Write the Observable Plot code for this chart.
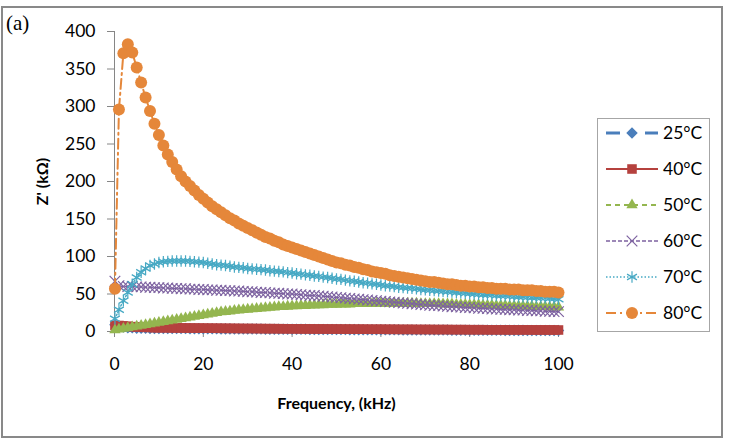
<!DOCTYPE html>
<html>
<head>
<meta charset="utf-8">
<script src="https://cdn.jsdelivr.net/npm/d3@7"></script>
<script src="https://cdn.jsdelivr.net/npm/@observablehq/plot@0.6"></script>
<style>
  body { margin: 0; background: #fff; }
  #fig { position: relative; width: 730px; height: 440px; font-family: Lato, "Open Sans", sans-serif; }
  #frame { position: absolute; left: 1px; top: 6px; width: 718px; height: 428px; border: 2px solid #898989; }
  #tag { position: absolute; left: 6px; top: 11px; font-family: "Liberation Serif", serif; font-size: 21px; color: #000; }
  #plot { position: absolute; left: 0; top: 0; }
  #legend { position: absolute; left: 597px; top: 118px; }
  #plot g[aria-label="x-axis label"] text, #plot g[aria-label="y-axis label"] text { font-weight: bold; font-size: 16px; }
  #plot g[aria-label="x-axis tick"] path, #plot g[aria-label="y-axis tick"] path { stroke: #868686; }
</style>
</head>
<body>
<div id="fig">
  <div id="frame"></div>
  <div id="plot"></div>
  <div id="tag">(a)</div>
  <svg id="legend" width="114" height="215"></svg>
</div>
<script>
// Frequency sweep (kHz)
const freq = [0.1,
  1, 2, 3, 4, 5, 6, 7, 8, 9, 10,
  11, 12, 13, 14, 15, 16, 17, 18, 19, 20,
  21, 22, 23, 24, 25, 26, 27, 28, 29, 30,
  31, 32, 33, 34, 35, 36, 37, 38, 39, 40,
  41, 42, 43, 44, 45, 46, 47, 48, 49, 50,
  51, 52, 53, 54, 55, 56, 57, 58, 59, 60,
  61, 62, 63, 64, 65, 66, 67, 68, 69, 70,
  71, 72, 73, 74, 75, 76, 77, 78, 79, 80,
  81, 82, 83, 84, 85, 86, 87, 88, 89, 90,
  91, 92, 93, 94, 95, 96, 97, 98, 99, 100];

// Real part of impedance Z' (kΩ) at each temperature
const z25 = [9,
  7, 6, 5, 5, 4.5, 4.5, 4.5, 4, 4, 4,
  4, 4, 4, 4, 4, 4, 3.8, 3.8, 3.8, 3.7,
  3.7, 3.6, 3.6, 3.5, 3.5, 3.5, 3.4, 3.4, 3.3, 3.3,
  3.3, 3.2, 3.2, 3.1, 3.1, 3.1, 3, 3, 3, 3,
  2.9, 2.9, 2.9, 2.8, 2.8, 2.8, 2.7, 2.7, 2.7, 2.6,
  2.6, 2.6, 2.5, 2.5, 2.5, 2.4, 2.4, 2.4, 2.3, 2.3,
  2.3, 2.2, 2.2, 2.2, 2.1, 2.1, 2.1, 2, 2, 2,
  2, 1.9, 1.9, 1.9, 1.9, 1.8, 1.8, 1.8, 1.8, 1.7,
  1.7, 1.7, 1.7, 1.6, 1.6, 1.6, 1.6, 1.5, 1.5, 1.5,
  1.5, 1.5, 1.4, 1.4, 1.4, 1.4, 1.3, 1.3, 1.3, 1.3];

const z40 = [8,
  8, 7.5, 7, 6.5, 6, 6, 5.5, 5.5, 5, 5,
  5, 5, 4.8, 4.8, 4.7, 4.7, 4.6, 4.6, 4.5, 4.5,
  4.4, 4.4, 4.3, 4.3, 4.2, 4.2, 4.1, 4.1, 4, 4,
  4, 3.9, 3.9, 3.8, 3.8, 3.8, 3.7, 3.7, 3.6, 3.6,
  3.6, 3.5, 3.5, 3.5, 3.4, 3.4, 3.4, 3.3, 3.3, 3.3,
  3.2, 3.2, 3.2, 3.1, 3.1, 3.1, 3, 3, 3, 3,
  2.9, 2.9, 2.9, 2.8, 2.8, 2.8, 2.8, 2.7, 2.7, 2.7,
  2.7, 2.6, 2.6, 2.6, 2.6, 2.5, 2.5, 2.5, 2.5, 2.4,
  2.4, 2.4, 2.4, 2.3, 2.3, 2.3, 2.3, 2.3, 2.2, 2.2,
  2.2, 2.2, 2.2, 2.1, 2.1, 2.1, 2.1, 2.1, 2, 2];

const z50 = [2,
  3, 4, 5, 6, 7, 8, 9, 10, 11, 12,
  13, 14, 15, 16, 17, 18, 19, 20, 21, 22,
  23, 24, 25, 26, 26.5, 27, 28, 28.5, 29, 29.5,
  30, 30.5, 31, 31.5, 32, 32.5, 33, 33, 33.5, 34,
  34, 34.5, 34.5, 35, 35, 35.5, 35.5, 36, 36, 36,
  36.5, 36.5, 36.5, 37, 37, 37, 37, 37, 37.5, 37.5,
  37.5, 37.5, 37.5, 37.5, 37.5, 37.5, 37.5, 37.5, 37, 37,
  37, 37, 37, 36.5, 36.5, 36.5, 36, 36, 36, 35.5,
  35.5, 35.5, 35, 35, 35, 34.5, 34.5, 34.5, 34, 34,
  34, 33.5, 33.5, 33.5, 33, 33, 33, 32.5, 32.5, 32.5];

const z60 = [67,
  61, 60, 60, 60, 59.5, 59.5, 59, 59, 58.5, 58.5,
  58, 58, 57.5, 57.5, 57, 57, 56.5, 56.5, 56, 56,
  55.5, 55.5, 55, 55, 54.5, 54.5, 54, 54, 53.5, 53,
  53, 52.5, 52, 52, 51.5, 51, 51, 50.5, 50, 50,
  49.5, 49, 48.5, 48, 48, 47.5, 47, 46.5, 46, 45.5,
  45, 44.5, 44, 43.5, 43, 42.5, 42, 41.5, 41, 40.5,
  40, 39.5, 39, 38.5, 38, 37.5, 37, 36.5, 36, 35.5,
  35, 34.5, 34.5, 34, 33.5, 33, 33, 32.5, 32, 32,
  31.5, 31, 31, 30.5, 30, 30, 29.5, 29.5, 29, 29,
  28.5, 28.5, 28, 28, 27.5, 27.5, 27, 27, 26.5, 26.5];

const z70 = [17,
  29, 41, 52, 63, 72, 79, 84, 88, 90, 92,
  93, 93.5, 94, 94, 94, 94, 93.5, 93, 92.5, 92,
  91, 90, 89, 88.5, 88, 87, 86, 85.5, 85, 84,
  83.5, 83, 82.5, 82, 81, 80.5, 80, 79.5, 78.5, 78,
  77, 76.5, 75.5, 75, 74, 73.5, 72.5, 72, 71, 70,
  69.5, 68.5, 67.5, 67, 66, 65, 64.5, 63.5, 63, 62,
  61, 60.5, 60, 59, 58.5, 58, 57.5, 57, 56, 55.5,
  55, 54.5, 54, 53.5, 53, 52.5, 52, 51.5, 51, 50.5,
  50, 49.5, 49, 49, 48.5, 48, 47.5, 47.5, 47, 46.5,
  46, 46, 45.5, 45, 45, 44.5, 44.5, 44, 43.5, 43];

const z80 = [57,
  296, 371, 383, 372, 352, 332, 312, 294, 277, 262,
  248, 236, 226, 216, 207, 200, 194, 188, 182, 177,
  172, 167, 163, 159, 155, 151, 148, 144, 141, 138,
  135, 132, 129, 126, 124, 121, 119, 116, 114, 112,
  110, 108, 106, 104, 102, 100, 98, 96, 94, 92,
  91, 89, 88, 86, 85, 83, 82, 80, 79, 78,
  77, 75, 74, 73, 72, 71, 70, 69, 68, 67,
  66, 66, 65, 64, 63, 63, 62, 61, 61, 60,
  60, 59, 59, 58, 58, 57, 57, 57, 56, 56,
  56, 55, 55, 55, 54, 54, 53, 53, 53, 52];

const seriesNames = ["25°C", "40°C", "50°C", "60°C", "70°C", "80°C"];
const seriesValues = [z25, z40, z50, z60, z70, z80];
const xTicks = [0, 20, 40, 60, 80, 100];
const yTicks = [0, 50, 100, 150, 200, 250, 300, 350, 400];

// Drawing style for each temperature: line colour, dash, marker
const looks = [
  {color: "#4a7ebb", width: 3,   dash: "11,6",     symbol: "diamond2", r: 5.2, filled: true},
  {color: "#b5413e", width: 2,   dash: null,       symbol: "square",   r: 5.4, filled: true},
  {color: "#94b64f", width: 2,   dash: "5,4",      symbol: "triangle", r: 4.2, filled: true},
  {color: "#7d62a0", width: 1.5, dash: "4,2",      symbol: "times",    r: 4.9, filled: false},
  {color: "#47a9c4", width: 1.5, dash: "1.5,2",    symbol: "asterisk", r: 5.4, filled: false},
  {color: "#e5873a", width: 2,   dash: "10,4,2,4", symbol: "circle",   r: 6,   filled: true}
];

const tables = seriesNames.map((name, i) =>
  freq.map((f, j) => ({f, z: seriesValues[i][j], name}))
);

const marks = [
  Plot.ruleX([0], {stroke: "#868686"}),
  Plot.ruleY([0], {stroke: "#868686"})
];
tables.forEach((rows, i) => {
  const k = looks[i];
  marks.push(Plot.line(rows, {
    x: "f", y: "z", stroke: k.color, strokeWidth: k.width,
    strokeDasharray: k.dash ?? undefined
  }));
  marks.push(Plot.dot(rows, k.filled
    ? {x: "f", y: "z", symbol: k.symbol, r: k.r, fill: k.color, stroke: "none"}
    : {x: "f", y: "z", symbol: k.symbol, r: k.r, fill: "none", stroke: k.color, strokeWidth: 1.2}));
});

const chart = Plot.plot({
  width: 730,
  height: 440,
  marginLeft: 114,
  marginRight: 172,
  marginTop: 31,
  marginBottom: 109,
  style: {fontFamily: "Lato, 'Open Sans', sans-serif", fontSize: "17.5px", color: "#000", background: "transparent", overflow: "visible"},
  x: {domain: [0, 100], ticks: xTicks, tickSize: 6, tickPadding: 20, tickFormat: d => String(d),
      label: "Frequency, (kHz)", labelAnchor: "center", labelOffset: 77, labelArrow: "none"},
  y: {domain: [0, 400], ticks: yTicks, tickSize: 7, tickPadding: 12, tickFormat: d => String(d),
      label: "Z' (kΩ)", labelAnchor: "center", labelOffset: 78, labelArrow: "none"},
  marks
});
document.getElementById("plot").append(chart);

// Legend: one row per temperature with its line and marker
const leg = d3.select("#legend");
leg.append("rect").attr("x", 0.5).attr("y", 0.5).attr("width", 112).attr("height", 213)
  .attr("fill", "#fff").attr("stroke", "#a6a6a6");
const symbolTypes = {
  diamond2: d3.symbolDiamond2, square: d3.symbolSquare, triangle: d3.symbolTriangle,
  times: d3.symbolTimes, asterisk: d3.symbolAsterisk, circle: d3.symbolCircle
};
seriesNames.forEach((name, i) => {
  const k = looks[i];
  const cy = 15 + i * 36;
  const g = leg.append("g").attr("transform", `translate(0,${cy})`);
  g.append("line").attr("x1", 9).attr("x2", 61).attr("y1", 0).attr("y2", 0)
    .attr("stroke", k.color).attr("stroke-width", k.width)
    .attr("stroke-dasharray", i === 0 ? "14,25,14" : k.dash);
  const size = Math.PI * k.r * k.r;
  g.append("path").attr("transform", "translate(35,0)")
    .attr("d", d3.symbol(symbolTypes[k.symbol], size)())
    .attr("fill", k.filled ? k.color : "none")
    .attr("stroke", k.filled ? "none" : k.color).attr("stroke-width", 1.2);
  g.append("text").attr("x", 66).attr("y", 0).attr("dy", "0.36em")
    .attr("font-family", "Lato, 'Open Sans', sans-serif").attr("font-size", "17.5px")
    .attr("fill", "#000").text(name);
});
</script>
</body>
</html>
